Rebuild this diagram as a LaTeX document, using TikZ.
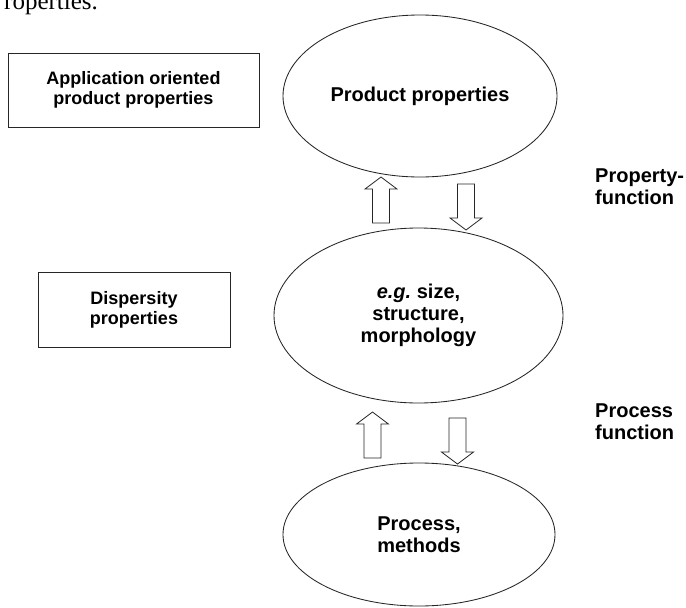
\documentclass[tikz,border=0pt]{standalone}
\usepackage{fontspec}
\setmainfont{Liberation Sans}
\newfontfamily\pagefont{Liberation Serif}
\usetikzlibrary{shapes.geometric}
\tikzset{
  lbl/.style={font=\fontsize{20}{22}\selectfont\bfseries, align=center, inner sep=0pt},
  oval/.style={draw=black!85, line width=0.85pt, ellipse, inner sep=0pt, lbl},
  boxnode/.style={draw=black!85, line width=0.85pt, rectangle, inner sep=0pt, align=center, font=\fontsize{18}{20}\selectfont\bfseries},
  sidelbl/.style={lbl, align=left, anchor=west},
  blockup/.pic={\draw[black!85, line width=0.8pt, fill=white] (0,0) -- (16,12) -- (8.5,12) -- (8.5,46) -- (-8.5,46) -- (-8.5,12) -- (-16,12) -- cycle;},
  blockdown/.pic={\draw[black!85, line width=0.8pt, fill=white] (0,0) -- (16,-12) -- (8.5,-12) -- (8.5,-46) -- (-8.5,-46) -- (-8.5,-12) -- (-16,-12) -- cycle;}
}
\begin{document}
\begin{tikzpicture}[x=1pt, y=-1pt]
\useasboundingbox (0,0) rectangle (686,608);
\fill[white] (0,0) rectangle (686,608);
% cut-off page text
\node[anchor=base west, inner sep=0pt, font=\pagefont\fontsize{25}{25}\selectfont] (pagetxt) at (4,9) {roperties.};
% boxes
\node[boxnode, minimum width=251pt, minimum height=74pt] (appbox) at (133.5,90) {Application oriented\\product properties};
\node[boxnode, minimum width=192pt, minimum height=75pt] (dispbox) at (134,309.5) {Dispersity\\properties};
% ellipses
\node[oval, minimum width=274pt, minimum height=162pt] (prod) at (420,96) {Product properties};
\node[oval, minimum width=289pt, minimum height=175pt] (disp) at (418.5,315.5) {\textit{e.g.}\ size,\\structure,\\morphology};
\node[oval, minimum width=272pt, minimum height=143pt] (proc) at (419,534.5) {Process,\\methods};
% side labels
\node[sidelbl] (propfn) at (595,187) {Property-\\function};
\node[sidelbl] (procfn) at (595,422) {Process\\function};
% block arrows
\coordinate (a1) at (381,177);
\coordinate (a2) at (466,230);
\coordinate (a3) at (372.5,412);
\coordinate (a4) at (457.5,464);
\pic at (a1) {blockup};
\pic at (a2) {blockdown};
\pic at (a3) {blockup};
\pic at (a4) {blockdown};
\end{tikzpicture}
\end{document}
